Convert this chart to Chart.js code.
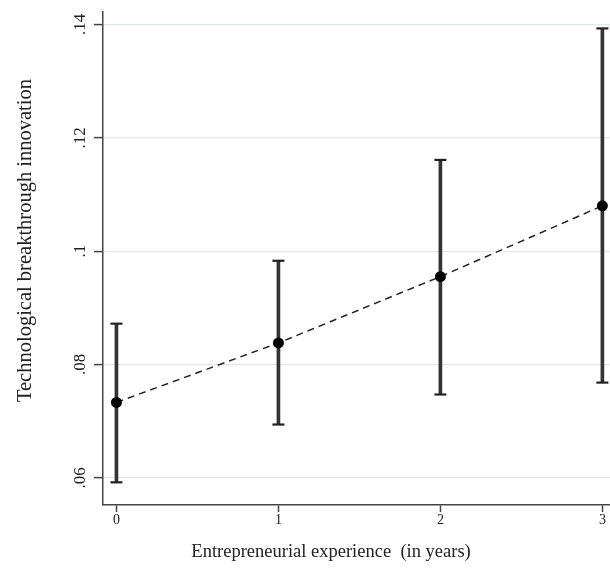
<!DOCTYPE html>
<html>
<head>
<meta charset="utf-8">
<script src="https://cdn.jsdelivr.net/npm/chart.js@4/dist/chart.umd.min.js"></script>
<style>
  html, body { margin: 0; padding: 0; background: #fff; }
  #wrap { width: 610px; height: 571px; }
</style>
</head>
<body>
<div id="wrap"><canvas id="chart" width="610" height="571"></canvas></div>
<script>
// years of entrepreneurial experience
const years = [0, 1, 2, 3];
// predicted values with 95% confidence limits
const estimates = [0.0733, 0.0838, 0.0955, 0.1080];
const lower = [0.0592, 0.0694, 0.0747, 0.0768];
const upper = [0.0872, 0.0983, 0.1161, 0.1393];

const yTicks = [0.06, 0.08, 0.10, 0.12, 0.14];
const xTicks = [0, 1, 2, 3];

const serif = "'Liberation Serif', 'Times New Roman', serif";
const ink = '#222';

const ciBars = years.map((x, i) => ({ x, y: [lower[i], upper[i]] }));
const caps = years.flatMap((x, i) => [{ x, y: lower[i] }, { x, y: upper[i] }]);
const points = years.map((x, i) => ({ x, y: estimates[i] }));

new Chart(document.getElementById('chart'), {
    type: 'scatter',
    data: {
        datasets: [
            {
                type: 'line',
                data: points,
                order: 0,
                borderColor: ink,
                borderWidth: 1.5,
                borderDash: [7, 5],
                pointRadius: 5.5,
                pointBackgroundColor: '#000',
                pointBorderWidth: 0,
                tension: 0,
            },
            {
                type: 'scatter',
                data: caps,
                order: 1,
                pointStyle: 'line',
                pointRadius: 6,
                borderColor: ink,
                borderWidth: 2.2,
            },
            {
                type: 'bar',
                data: ciBars,
                order: 2,
                backgroundColor: '#333',
                borderWidth: 0,
                barThickness: 3,
            },
        ],
    },
    options: {
        responsive: false,
        animation: false,
        events: [],
        layout: { autoPadding: false, padding: { top: 12, left: 0, right: 0, bottom: 0 } },
        scales: {
            x: {
                type: 'linear',
                min: -0.083,
                max: 3.047,
                offset: false,
                afterBuildTicks: (s) => { s.ticks = xTicks.map(v => ({ value: v })); },
                afterFit: (s) => {
                    s.height = 66;
                    s.paddingLeft = 0;
                    s.paddingRight = 0;
                },
                grid: {
                    offset: false,
                    drawOnChartArea: false,
                    tickLength: 7,
                    tickColor: '#444',
                    tickWidth: 1.5,
                },
                border: { color: '#444', width: 1.5 },
                ticks: {
                    padding: 0,
                    color: ink,
                    font: { family: serif, size: 14 },
                    callback: (v) => String(v),
                },
                title: {
                    display: true,
                    text: 'Entrepreneurial experience  (in years)           ',
                    color: ink,
                    font: { family: serif, size: 18.5 },
                    padding: { top: 0, bottom: 8 },
                },
            },
            y: {
                type: 'linear',
                min: 0.0552,
                max: 0.1422,
                beginAtZero: false,
                afterBuildTicks: (s) => { s.ticks = yTicks.map(v => ({ value: v })); },
                afterFit: (s) => {
                    s.width = 103;
                    s.paddingTop = 0;
                    s.paddingBottom = 0;
                },
                grid: {
                    color: '#dde9ee',
                    lineWidth: 1.2,
                    tickLength: 9,
                    tickColor: '#444',
                    tickWidth: 1.5,
                },
                border: { color: '#444', width: 1.5 },
                ticks: {
                    minRotation: 90,
                    maxRotation: 90,
                    crossAlign: 'center',
                    padding: 3,
                    color: ink,
                    font: { family: serif, size: 17 },
                    callback: (v) => String(+v.toFixed(2)).replace(/^0/, ''),
                },
                title: {
                    display: true,
                    text: '       Technological breakthrough innovation',
                    color: ink,
                    font: { family: serif, size: 20.5 },
                    padding: { top: 13, bottom: 0 },
                },
            },
        },
        plugins: {
            legend: { display: false },
            tooltip: { enabled: false },
        },
    },
});
</script>
</body>
</html>
